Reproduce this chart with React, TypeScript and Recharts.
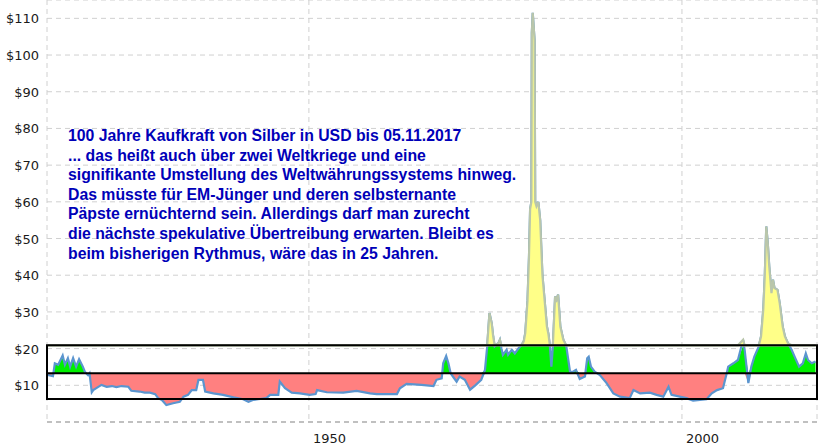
import React from 'react';
import {
  ComposedChart,
  Area,
  XAxis,
  YAxis,
  CartesianGrid,
  ReferenceArea,
  ReferenceLine,
} from 'recharts';

// Silber, inflationsbereinigt (USD von 2017)
const YEARS = [
  1915.0, 1915.7, 1915.95, 1916.4, 1917.0, 1917.3, 1917.7, 1918.0, 1918.4, 1918.8,
  1919.2, 1919.7, 1920.0, 1920.4, 1920.6, 1920.9, 1921.1, 1922.2, 1922.9, 1923.6,
  1924.2, 1924.9, 1925.8, 1926.2, 1927.3, 1928.0, 1928.7, 1929.4, 1929.8, 1930.3,
  1930.9, 1931.8, 1932.7, 1933.2, 1933.8, 1934.3, 1934.9, 1935.2, 1935.8, 1936.1,
  1937.2, 1938.5, 1939.9, 1941.2, 1941.9, 1942.5, 1943.2, 1944.3, 1944.8, 1945.9,
  1946.1, 1946.8, 1947.7, 1948.8, 1950.1, 1950.9, 1951.1, 1952.4, 1954.6, 1956.4,
  1958.2, 1959.1, 1961.8, 1962.2, 1963.1, 1965.1, 1966.7, 1967.1, 1967.8, 1968.0,
  1968.4, 1968.7, 1969.0, 1969.3, 1969.8, 1970.2, 1970.9, 1971.6, 1972.3, 1973.1,
  1973.6, 1973.9, 1974.2, 1974.5, 1974.7, 1974.9, 1975.4, 1975.6, 1975.8, 1976.0,
  1976.5, 1976.7, 1977.2, 1977.6, 1978.1, 1978.5, 1978.8, 1979.0, 1979.3, 1979.5,
  1979.65, 1979.82, 1979.88, 1980.0, 1980.25, 1980.33, 1980.5, 1980.75, 1981.0, 1981.1,
  1981.3, 1981.6, 1981.9, 1982.1, 1982.3, 1982.5, 1982.7, 1983.0, 1983.2, 1983.4,
  1983.7, 1984.1, 1984.5, 1985.0, 1985.4, 1985.8, 1986.3, 1987.0, 1987.3, 1987.5,
  1987.8, 1988.3, 1989.0, 1989.9, 1990.8, 1991.7, 1993.0, 1993.5, 1994.4, 1995.7,
  1996.6, 1997.5, 1998.2, 1998.6, 1999.7, 2000.6, 2001.5, 2002.4, 2003.3, 2004.0,
  2004.7, 2005.5, 2006.0, 2006.2, 2006.9, 2007.5, 2008.2, 2008.4, 2008.9, 2009.3,
  2009.7, 2010.3, 2010.6, 2010.9, 2011.1, 2011.3, 2011.5, 2011.7, 2012.0, 2012.2,
  2012.4, 2012.8, 2013.1, 2013.5, 2013.8, 2014.2, 2014.7, 2015.1, 2015.7, 2016.2,
  2016.6, 2016.9, 2017.4, 2017.9,
];

const SILVER = [
  12.8, 12.5, 16.0, 15.6, 18.1, 15.6, 17.4, 15.1, 17.4, 15.1,
  17.1, 15.1, 13.6, 12.8, 13.3, 8.1, 8.7, 10.1, 9.6, 9.8,
  9.5, 9.8, 9.6, 8.5, 8.3, 8.0, 8.0, 7.6, 6.5, 6.0,
  4.6, 5.1, 5.5, 6.9, 7.4, 8.7, 8.7, 11.5, 11.5, 8.3,
  7.8, 7.4, 6.7, 6.2, 5.5, 6.0, 6.2, 6.5, 7.4, 7.4,
  11.0, 9.2, 8.0, 7.8, 7.4, 7.6, 8.7, 8.1, 8.0, 8.5,
  7.8, 7.6, 7.6, 9.2, 10.4, 10.1, 9.8, 11.5, 11.9, 16.0,
  18.0, 16.0, 13.3, 12.4, 11.0, 12.4, 11.5, 8.8, 10.0, 11.5,
  14.2, 20.6, 29.7, 26.9, 23.3, 20.6, 21.5, 22.4, 20.1, 18.3,
  19.7, 18.3, 19.7, 18.7, 20.1, 21.0, 22.0, 24.2, 33.0, 45.0,
  58.0, 60.0, 106.0, 111.5, 104.0, 60.0, 58.8, 60.0, 55.0, 50.0,
  40.0, 33.0, 26.0, 24.0, 20.6, 15.1, 20.6, 34.2, 33.3, 34.7,
  26.0, 22.4, 20.6, 13.7, 13.7, 14.2, 11.7, 12.4, 17.4, 17.8,
  15.1, 13.7, 12.8, 10.6, 7.8, 6.9, 6.5, 8.7, 7.8, 8.0,
  7.4, 6.9, 9.6, 7.4, 6.9, 6.5, 5.8, 6.0, 6.2, 7.8,
  8.7, 9.2, 13.3, 15.1, 16.0, 16.9, 22.4, 19.7, 10.6, 15.1,
  17.8, 20.6, 23.3, 30.6, 39.7, 53.3, 48.8, 42.4, 35.1, 38.8,
  36.5, 36.0, 32.4, 26.0, 23.3, 21.5, 19.7, 17.8, 15.1, 16.0,
  18.7, 16.9, 16.0, 16.5,
];

const MEAN = 13.3;
const UPPER = 20.9;
const LOWER = 6.3;

const X_TICKS = [1950, 2000];
const Y_TICKS = [0, 10, 20, 30, 40, 50, 60, 70, 80, 90, 100, 110];

const NOTE = [
  '100 Jahre Kaufkraft von Silber in USD bis 05.11.2017',
  '... das heißt auch über zwei Weltkriege und eine',
  'signifikante Umstellung des Weltwährungssystems hinweg.',
  'Das müsste für EM-Jünger und deren selbsternante',
  'Päpste ernüchternd sein. Allerdings darf man zurecht',
  'die nächste spekulative Übertreibung erwarten. Bleibt es',
  'beim bisherigen Rythmus, wäre das in 25 Jahren.',
];

const rows = YEARS.map((year, i) => {
  const v = SILVER[i];
  return {
    year,
    v,
    red: [Math.min(v, MEAN), MEAN],
    green: [MEAN, Math.min(Math.max(v, MEAN), UPPER)],
    yellow: [UPPER, Math.max(v, UPPER)],
  };
});

const axisFont = { fontFamily: '"DejaVu Sans", Verdana, sans-serif', fontSize: 13, fill: '#1a1a1a' };

const YTick = (props: any) => {
  const { y, payload } = props;
  if (payload.value === 0) return <g />;
  return (
    <text x={39} y={y} dy={5} textAnchor="end" style={axisFont}>
      {'$' + payload.value}
    </text>
  );
};

const XTick = (props: any) => {
  const { x, payload } = props;
  return (
    <text x={x + 4} y={443} textAnchor="start" style={axisFont}>
      {payload.value}
    </text>
  );
};

export default function App() {
  return (
    <div style={{ position: 'absolute', left: 0, top: 0, width: 819, height: 445, background: '#fff' }}>
      <ComposedChart width={819} height={445} data={rows} margin={{ top: 0, right: 2, bottom: 0, left: 0 }}>
        <CartesianGrid stroke="#d0d0d0" strokeDasharray="5 4" />
        <XAxis
          dataKey="year"
          type="number"
          domain={[1914.9, 2018.1]}
          ticks={X_TICKS}
          allowDataOverflow
          axisLine={false}
          tickLine={false}
          height={23}
          tick={<XTick />}
        />
        <YAxis
          type="number"
          domain={[0, 115]}
          ticks={Y_TICKS}
          allowDataOverflow
          axisLine={false}
          tickLine={false}
          width={47}
          tick={<YTick />}
        />
        <ReferenceLine y={0} stroke="#999" strokeDasharray="5 4" />
        <Area dataKey="red" type="linear" fill="#ff8080" fillOpacity={1} stroke="none" isAnimationActive={false} />
        <Area dataKey="green" type="linear" fill="#00f000" fillOpacity={1} stroke="none" isAnimationActive={false} />
        <Area
          dataKey="v"
          type="linear"
          fill="none"
          stroke="#5b95cf"
          strokeWidth={2.2}
          dot={false}
          activeDot={false}
          isAnimationActive={false}
        />
        <Area
          dataKey="yellow"
          type="linear"
          fill="#ffff88"
          fillOpacity={1}
          stroke="#b9c6ab"
          strokeWidth={2.2}
          isAnimationActive={false}
        />
        <ReferenceArea y1={LOWER} y2={UPPER} fill="none" stroke="#000" strokeWidth={2} ifOverflow="visible" />
        <ReferenceLine y={MEAN} stroke="#000" strokeWidth={2} />
      </ComposedChart>
      <div
        style={{
          position: 'absolute',
          left: 68,
          top: 126,
          fontFamily: '"Liberation Sans", Arial, sans-serif',
          fontSize: 15.8,
          fontWeight: 'bold',
          lineHeight: '19.6px',
          color: '#0000b8',
          whiteSpace: 'pre',
        }}
      >
        {NOTE.map((line) => (
          <div key={line}>{line}</div>
        ))}
      </div>
    </div>
  );
}
